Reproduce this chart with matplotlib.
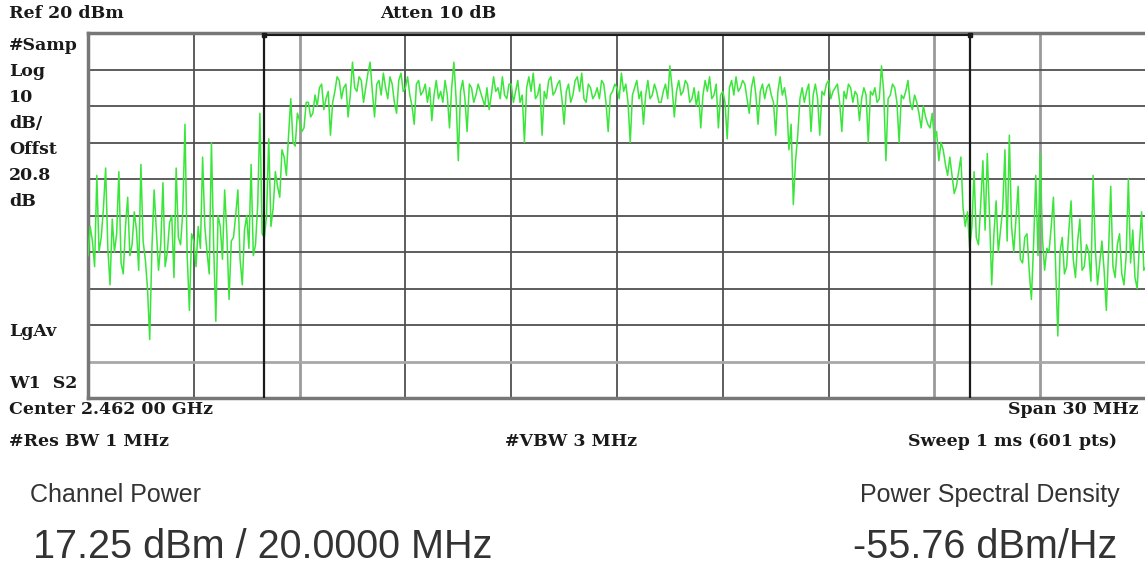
import numpy as np
import matplotlib
matplotlib.use("Agg")
import matplotlib.pyplot as plt

# Spectrum analyzer screen: center 2.462 GHz, span 30 MHz, ref 20 dBm, 10 dB/div
span_edges = [-15, -10, -5, 0, 5, 10, 15]   # MHz offset from center, one chunk per 5 MHz
ref_level = 20
db_per_div = 10
channel_bw = 20

# trace levels (dBm), ~0.0625 MHz apart
noise_low = [-41, -33, -37, -44, -19, -40, -36, -28, -17, -39,
             -49, -31, -40, -35, -18, -43, -46, -33, -25, -41,
             -38, -29, -34, -45, -16, -37, -42, -50, -64, -39,
             -23, -34, -45, -38, -21, -44, -40, -32, -30, -47,
             -17, -36, -38, -29, -5, -41, -56, -35, -37, -44,
             -33, -39, -14, -33, -40, -46, -10, -38, -59, -30,
             -33, -42, -23, -35, -53, -37, -36, -30, -23, -42,
             -49, -34, -30, -39, -16, -41, -38, -27, -2, -35]
rise = [-36, -30, -9, -33, -28, -18, -22, -25, -12, -14,
        -19, -8, 2, -10, -11, -2, -4, -7, -6, 1,
        1, -3, -2, 3, 0, 5, 6, -1, 2, 4,
        -8, 1, 4, 8, 7, 2, 5, 6, -3, 3,
        12, 5, 4, 8, 7, 1, 5, 9, 12, 4,
        -3, 6, 7, 3, 9, 5, 2, 8, 6, 1,
        -2, 7, 9, 4, 5, 8, 3, 0, -5, 6,
        7, 3, 4, 6, 1, 5, -4, 3, 7, 2]
band_a = [4, 1, 7, 3, -6, 5, 12, 2, -15, 4,
          7, 2, -7, 6, 5, 1, 3, 6, 4, 2,
          0, 5, -1, 3, 8, 4, 5, 2, 8, 3,
          2, 6, 6, 1, 4, 7, 1, 3, -10, 5,
          8, 4, 9, 2, 3, 6, -8, 4, 2, 7,
          8, 3, 4, 6, 7, 2, -5, 4, 6, 1,
          3, 7, 8, 4, 9, 2, 1, 6, 5, 2,
          3, 5, 2, 7, 6, 1, -7, 3, 4, 6]
band_b = [5, 2, 9, 4, 6, 1, -10, 3, 5, 7,
          2, 4, -5, 3, 7, 2, 3, 6, 4, 1,
          1, 4, 6, 2, 11, 5, -3, 4, 7, 3,
          4, 7, 6, 1, 2, 5, 0, 4, -6, 3,
          7, 4, 8, 2, 3, 6, -6, 3, 4, 1,
          -9, 5, 7, 3, 8, 4, 5, 7, 6, 2,
          -2, 5, 8, 3, -5, 4, 6, 2, 5, 6,
          3, 1, -8, 4, 8, 3, 5, 1, -12, -5]
band_fall = [-27, -15, -8, 2, 5, 1, 4, 6, -7, 3,
             6, 2, -8, 4, 3, 6, 7, 2, 4, 5,
             6, 1, -7, 4, 2, 6, 5, 1, 4, 3,
             -4, 2, 5, 3, -10, 4, 3, 5, 1, 2,
             11, 4, -15, 2, 3, 6, 5, 1, -10, 3,
             2, 4, 7, 1, -1, 3, 1, -2, -6, 0,
             -3, -5, -6, -2, -9, -7, -15, -10, -12, -16,
             -19, -14, -19, -24, -22, -18, -14, -28, -33, -29]
noise_high = [-39, -33, -18, -36, -38, -27, -15, -34, -13, -30,
              -49, -35, -26, -40, -34, -28, -12, -37, -8, -33,
              -40, -31, -22, -42, -43, -36, -35, -45, -53, -38,
              -19, -41, -13, -36, -45, -39, -40, -33, -25, -44,
              -63, -40, -36, -46, -44, -34, -26, -42, -47, -37,
              -31, -45, -44, -38, -40, -48, -19, -39, -49, -43,
              -37, -45, -56, -40, -22, -44, -47, -38, -35, -46,
              -49, -41, -20, -43, -34, -47, -50, -38, -29, -45, -44]

chunks = [noise_low, rise, band_a, band_b, band_fall, noise_high]
freqs = []
levels = []
for i, ch in enumerate(chunks):
    last = i == len(chunks) - 1
    freqs.append(np.linspace(span_edges[i], span_edges[i + 1], len(ch), endpoint=last))
    levels.append(np.array(ch, dtype=float))
freqs = np.concatenate(freqs)
levels = np.concatenate(levels)

W, H = 1145, 566
fig = plt.figure(figsize=(W / 100, H / 100), dpi=100, facecolor="white")
ax = fig.add_axes([88 / W, 1 - 398 / H, 1058 / W, 365 / H])

ax.plot(freqs, levels, color="#3ae63a", lw=1.1, zorder=3)

ax.set_xlim(span_edges[0], span_edges[-1])
ax.set_ylim(ref_level - 10 * db_per_div, ref_level)
ax.set_xticks(np.arange(span_edges[0], span_edges[-1] + 0.1, 3))
ax.set_yticks(np.arange(ref_level - 10 * db_per_div, ref_level + 1, db_per_div))
ax.tick_params(length=0, labelbottom=False, labelleft=False)
ax.grid(True, color="#505050", lw=1.3)
ax.set_axisbelow(True)

# a few grid lines show up lighter on the screenshot
for i in (2, 8, 9):
    ax.get_xgridlines()[i].set_color("#9a9a9a")
    ax.get_xgridlines()[i].set_linewidth(2)
ax.get_ygridlines()[1].set_color("#a8a8a8")
ax.get_ygridlines()[1].set_linewidth(2)

for s in ("left", "top", "bottom"):
    ax.spines[s].set_color("#777777")
    ax.spines[s].set_linewidth(2.5)
ax.spines["right"].set_visible(False)

# channel power integration markers
ax.axvline(-channel_bw / 2, color="#1a1a1a", lw=1.6, zorder=4)
ax.axvline(channel_bw / 2, color="#1a1a1a", lw=1.6, zorder=4)
ax.plot([-channel_bw / 2, channel_bw / 2], [ref_level - 0.6, ref_level - 0.6],
        color="#1a1a1a", lw=1.5, marker="s", ms=3, zorder=4, clip_on=False)


def put(x, y, s, **kw):
    fig.text(x / W, 1 - y / H, s, va="center", **kw)


hdr = dict(family="DejaVu Serif", weight="bold", size=12.5, color="#1a1a1a")
put(9, 14, "Ref 20 dBm", **hdr)
put(380, 14, "Atten 10 dB", **hdr)
side = [("#Samp", 46), ("Log", 72), ("10", 98), ("dB/", 124), ("Offst", 150),
        ("20.8", 175), ("dB", 201), ("LgAv", 331), ("W1  S2", 384)]
for s, y in side:
    put(9, y, s, **hdr)

put(9, 410, "Center 2.462 00 GHz", **hdr)
put(1139, 410, "Span 30 MHz", ha="right", **hdr)
put(9, 441, "#Res BW 1 MHz", **hdr)
put(505, 441, "#VBW 3 MHz", **hdr)
put(1117, 441, "Sweep 1 ms (601 pts)", ha="right", **hdr)

meas = dict(family="Liberation Sans", color="#333333")
put(30, 495, "Channel Power", size=18, **meas)
put(1120, 495, "Power Spectral Density", ha="right", size=18, **meas)
put(33, 547, "17.25 dBm / 20.0000 MHz", size=28.5, **meas)
put(1117, 547, "-55.76 dBm/Hz", ha="right", size=28.5, **meas)

fig.savefig("out.png", dpi=100, facecolor="white")
